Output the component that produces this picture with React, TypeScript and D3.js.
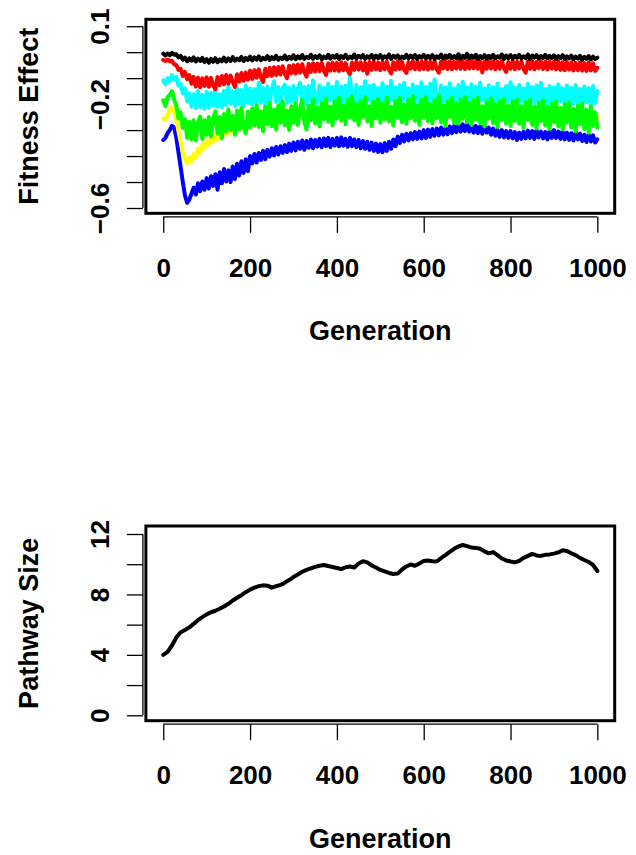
import React, { useEffect, useRef } from "react";
import * as d3 from "d3";

// fitness effect series, one value every 5 generations (0..1000)
const GEN_STEP = 5;

const blackSeries = [
  -0.006,-0.013,-0.005,-0.012,-0.003,-0.010,-0.008,-0.020,-0.014,-0.029,-0.021,-0.035,-0.024,-0.033,-0.020,-0.036,-0.025,-0.034,-0.022,-0.038,
  -0.027,-0.041,-0.026,-0.037,-0.023,-0.039,-0.028,-0.035,-0.021,-0.036,-0.024,-0.034,-0.019,-0.033,-0.025,-0.031,-0.018,-0.034,-0.022,-0.030,
  -0.017,-0.032,-0.020,-0.029,-0.016,-0.031,-0.022,-0.028,-0.015,-0.030,-0.019,-0.027,-0.014,-0.029,-0.021,-0.026,-0.013,-0.028,-0.018,-0.025,
  -0.012,-0.027,-0.016,-0.024,-0.011,-0.026,-0.018,-0.023,-0.010,-0.025,-0.015,-0.022,-0.012,-0.027,-0.017,-0.023,-0.010,-0.025,-0.014,-0.021,
  -0.011,-0.026,-0.015,-0.022,-0.010,-0.025,-0.017,-0.023,-0.009,-0.024,-0.014,-0.021,-0.011,-0.026,-0.016,-0.022,-0.010,-0.025,-0.013,-0.023,
  -0.011,-0.025,-0.016,-0.022,-0.009,-0.026,-0.014,-0.021,-0.012,-0.025,-0.017,-0.023,-0.010,-0.024,-0.013,-0.022,-0.011,-0.026,-0.015,-0.021,
  -0.010,-0.024,-0.014,-0.023,-0.011,-0.026,-0.016,-0.022,-0.009,-0.025,-0.013,-0.021,-0.010,-0.024,-0.015,-0.023,-0.008,-0.025,-0.014,-0.022,
  -0.006,-0.024,-0.013,-0.021,-0.010,-0.026,-0.015,-0.023,-0.011,-0.025,-0.014,-0.022,-0.010,-0.024,-0.016,-0.021,-0.009,-0.026,-0.013,-0.023,
  -0.011,-0.025,-0.014,-0.022,-0.010,-0.024,-0.016,-0.023,-0.009,-0.026,-0.013,-0.021,-0.011,-0.025,-0.015,-0.022,-0.010,-0.024,-0.014,-0.023,
  -0.012,-0.026,-0.015,-0.023,-0.011,-0.027,-0.016,-0.024,-0.013,-0.028,-0.017,-0.025,-0.014,-0.029,-0.018,-0.026,-0.015,-0.028,-0.017,-0.027,
  -0.021,
];

const redSeries = [
  -0.030,-0.034,-0.029,-0.035,-0.033,-0.046,-0.050,-0.068,-0.064,-0.092,-0.076,-0.104,-0.088,-0.121,-0.095,-0.132,-0.098,-0.135,-0.101,-0.130,
  -0.097,-0.133,-0.099,-0.128,-0.142,-0.096,-0.127,-0.092,-0.124,-0.088,-0.121,-0.090,-0.115,-0.134,-0.085,-0.113,-0.080,-0.110,-0.078,-0.106,
  -0.071,-0.103,-0.069,-0.098,-0.066,-0.097,-0.115,-0.064,-0.093,-0.060,-0.091,-0.058,-0.088,-0.057,-0.086,-0.054,-0.083,-0.100,-0.052,-0.081,
  -0.050,-0.082,-0.048,-0.079,-0.046,-0.077,-0.094,-0.045,-0.076,-0.043,-0.074,-0.044,-0.073,-0.041,-0.072,-0.088,-0.043,-0.071,-0.040,-0.070,
  -0.041,-0.072,-0.039,-0.069,-0.042,-0.071,-0.085,-0.040,-0.068,-0.037,-0.067,-0.039,-0.070,-0.041,-0.083,-0.038,-0.068,-0.036,-0.066,-0.040,
  -0.069,-0.038,-0.066,-0.036,-0.068,-0.082,-0.039,-0.067,-0.035,-0.065,-0.037,-0.068,-0.080,-0.038,-0.064,-0.034,-0.066,-0.037,-0.067,-0.036,
  -0.065,-0.035,-0.067,-0.037,-0.064,-0.034,-0.066,-0.079,-0.036,-0.063,-0.033,-0.065,-0.035,-0.066,-0.037,-0.063,-0.032,-0.064,-0.034,-0.065,
  -0.035,-0.063,-0.032,-0.062,-0.034,-0.064,-0.036,-0.078,-0.037,-0.064,-0.033,-0.063,-0.035,-0.066,-0.036,-0.064,-0.034,-0.062,-0.076,-0.038,
  -0.064,-0.034,-0.066,-0.037,-0.063,-0.035,-0.065,-0.079,-0.036,-0.064,-0.034,-0.066,-0.038,-0.062,-0.035,-0.065,-0.037,-0.067,-0.036,-0.064,
  -0.037,-0.066,-0.035,-0.068,-0.039,-0.069,-0.038,-0.067,-0.040,-0.070,-0.041,-0.069,-0.039,-0.071,-0.042,-0.072,-0.040,-0.070,-0.043,-0.072,
  -0.060,
];

const cyanSeries = [
  -0.108,-0.124,-0.100,-0.112,-0.088,-0.106,-0.095,-0.128,-0.122,-0.158,-0.140,-0.190,-0.158,-0.210,-0.162,-0.215,-0.150,-0.212,-0.165,-0.218,
  -0.152,-0.214,-0.158,-0.205,-0.140,-0.210,-0.162,-0.212,-0.148,-0.204,-0.130,-0.198,-0.150,-0.208,-0.138,-0.200,-0.146,-0.206,-0.128,-0.196,
  -0.140,-0.202,-0.142,-0.198,-0.118,-0.195,-0.138,-0.204,-0.132,-0.196,-0.145,-0.112,-0.192,-0.135,-0.198,-0.140,-0.125,-0.196,-0.137,-0.190,
  -0.130,-0.195,-0.140,-0.118,-0.192,-0.134,-0.200,-0.130,-0.188,-0.108,-0.186,-0.196,-0.128,-0.190,-0.138,-0.198,-0.122,-0.186,-0.134,-0.194,
  -0.115,-0.190,-0.132,-0.198,-0.128,-0.188,-0.098,-0.182,-0.194,-0.126,-0.190,-0.135,-0.198,-0.112,-0.186,-0.130,-0.196,-0.125,-0.190,-0.138,
  -0.198,-0.120,-0.188,-0.132,-0.194,-0.110,-0.184,-0.136,-0.200,-0.126,-0.192,-0.118,-0.186,-0.140,-0.196,-0.124,-0.190,-0.132,-0.196,-0.116,
  -0.188,-0.134,-0.198,-0.122,-0.186,-0.105,-0.182,-0.196,-0.128,-0.190,-0.136,-0.200,-0.120,-0.188,-0.140,-0.194,-0.126,-0.192,-0.114,-0.186,
  -0.136,-0.198,-0.124,-0.190,-0.132,-0.196,-0.118,-0.186,-0.140,-0.200,-0.127,-0.190,-0.135,-0.196,-0.121,-0.188,-0.142,-0.198,-0.130,-0.192,
  -0.116,-0.186,-0.136,-0.198,-0.126,-0.190,-0.140,-0.200,-0.122,-0.188,-0.134,-0.196,-0.128,-0.192,-0.118,-0.186,-0.142,-0.200,-0.130,-0.190,
  -0.135,-0.198,-0.124,-0.190,-0.140,-0.202,-0.128,-0.192,-0.138,-0.200,-0.126,-0.192,-0.142,-0.204,-0.132,-0.194,-0.138,-0.202,-0.130,-0.196,
  -0.150,
];

const yellowSeries = [
  -0.255,-0.262,-0.240,-0.222,-0.212,-0.228,-0.262,-0.305,-0.345,-0.385,-0.410,-0.428,-0.405,-0.420,-0.392,-0.405,-0.372,-0.388,-0.356,-0.370,
  -0.340,-0.356,-0.325,-0.345,-0.318,-0.336,-0.305,-0.325,-0.298,-0.318,-0.290,-0.310,-0.285,-0.305,-0.278,-0.298,-0.272,-0.292,-0.268,-0.288,
  -0.262,-0.250,-0.268,-0.245,-0.258,-0.240,-0.262,-0.248,-0.255,-0.238,-0.260,-0.246,-0.252,-0.236,-0.258,-0.244,-0.250,-0.234,-0.255,-0.242,
  -0.248,-0.232,-0.252,-0.238,-0.245,-0.228,-0.250,-0.236,-0.242,-0.226,-0.248,-0.234,-0.240,-0.224,-0.246,-0.232,-0.238,-0.222,-0.244,-0.230,
  -0.236,-0.220,-0.240,-0.225,-0.232,-0.216,-0.238,-0.224,-0.230,-0.214,-0.236,-0.222,-0.228,-0.212,-0.234,-0.220,-0.240,-0.225,-0.232,-0.218,
  -0.238,-0.222,-0.234,-0.218,-0.240,-0.226,-0.232,-0.216,-0.236,-0.222,-0.230,-0.214,-0.236,-0.220,-0.228,-0.212,-0.234,-0.218,-0.230,-0.216,
  -0.232,-0.216,-0.236,-0.222,-0.228,-0.212,-0.234,-0.220,-0.230,-0.214,-0.238,-0.224,-0.232,-0.218,-0.236,-0.222,-0.230,-0.216,-0.238,-0.224,
  -0.236,-0.220,-0.240,-0.226,-0.232,-0.216,-0.238,-0.224,-0.234,-0.218,-0.240,-0.226,-0.236,-0.220,-0.242,-0.228,-0.234,-0.218,-0.240,-0.226,
  -0.238,-0.222,-0.244,-0.230,-0.236,-0.220,-0.242,-0.228,-0.238,-0.222,-0.246,-0.232,-0.240,-0.224,-0.244,-0.230,-0.238,-0.222,-0.246,-0.232,
  -0.242,-0.226,-0.248,-0.234,-0.240,-0.224,-0.250,-0.236,-0.244,-0.228,-0.252,-0.238,-0.246,-0.230,-0.254,-0.240,-0.248,-0.232,-0.256,-0.242,
  -0.250,
];

const greenSeries = [
  -0.185,-0.208,-0.172,-0.165,-0.150,-0.182,-0.205,-0.255,-0.232,-0.292,-0.258,-0.330,-0.268,-0.335,-0.262,-0.340,-0.270,-0.248,-0.335,-0.262,
  -0.318,-0.250,-0.325,-0.258,-0.228,-0.312,-0.250,-0.332,-0.238,-0.305,-0.220,-0.300,-0.245,-0.318,-0.225,-0.298,-0.215,-0.290,-0.312,-0.228,
  -0.290,-0.218,-0.282,-0.205,-0.288,-0.228,-0.305,-0.210,-0.278,-0.195,-0.285,-0.222,-0.298,-0.205,-0.272,-0.190,-0.282,-0.225,-0.300,-0.208,
  -0.272,-0.196,-0.280,-0.220,-0.185,-0.270,-0.298,-0.205,-0.262,-0.182,-0.275,-0.212,-0.286,-0.196,-0.258,-0.178,-0.268,-0.210,-0.282,-0.188,
  -0.256,-0.176,-0.264,-0.206,-0.278,-0.184,-0.252,-0.170,-0.262,-0.200,-0.280,-0.188,-0.250,-0.174,-0.266,-0.208,-0.284,-0.190,-0.255,-0.180,
  -0.272,-0.198,-0.260,-0.175,-0.266,-0.210,-0.282,-0.188,-0.252,-0.176,-0.270,-0.202,-0.276,-0.182,-0.255,-0.170,-0.264,-0.206,-0.280,-0.184,
  -0.252,-0.174,-0.266,-0.200,-0.274,-0.186,-0.255,-0.168,-0.270,-0.204,-0.284,-0.190,-0.250,-0.176,-0.272,-0.198,-0.276,-0.182,-0.256,-0.174,
  -0.270,-0.195,-0.280,-0.184,-0.260,-0.176,-0.272,-0.208,-0.286,-0.190,-0.256,-0.178,-0.274,-0.200,-0.288,-0.188,-0.262,-0.180,-0.276,-0.205,
  -0.284,-0.188,-0.265,-0.182,-0.276,-0.208,-0.290,-0.192,-0.260,-0.184,-0.280,-0.210,-0.294,-0.195,-0.266,-0.186,-0.282,-0.212,-0.296,-0.198,
  -0.270,-0.190,-0.286,-0.215,-0.298,-0.200,-0.272,-0.194,-0.290,-0.218,-0.305,-0.204,-0.278,-0.198,-0.296,-0.222,-0.310,-0.208,-0.284,-0.232,
  -0.290,
];

const blueSeries = [
  -0.338,-0.330,-0.312,-0.300,-0.284,-0.290,-0.328,-0.385,-0.442,-0.500,-0.552,-0.580,-0.568,-0.545,-0.522,-0.548,-0.505,-0.535,-0.498,-0.530,
  -0.485,-0.525,-0.478,-0.515,-0.470,-0.530,-0.462,-0.505,-0.450,-0.498,-0.455,-0.500,-0.440,-0.488,-0.430,-0.475,-0.420,-0.465,-0.412,-0.458,
  -0.400,-0.428,-0.392,-0.425,-0.388,-0.415,-0.380,-0.412,-0.376,-0.402,-0.370,-0.398,-0.365,-0.394,-0.362,-0.388,-0.358,-0.385,-0.352,-0.380,
  -0.348,-0.378,-0.345,-0.372,-0.340,-0.376,-0.342,-0.368,-0.336,-0.370,-0.338,-0.364,-0.334,-0.366,-0.332,-0.362,-0.330,-0.365,-0.334,-0.360,
  -0.330,-0.362,-0.328,-0.360,-0.334,-0.364,-0.330,-0.362,-0.336,-0.366,-0.338,-0.370,-0.342,-0.372,-0.345,-0.376,-0.348,-0.380,-0.352,-0.384,
  -0.354,-0.385,-0.350,-0.380,-0.345,-0.372,-0.336,-0.362,-0.325,-0.350,-0.318,-0.344,-0.314,-0.340,-0.312,-0.336,-0.308,-0.334,-0.306,-0.332,
  -0.300,-0.330,-0.298,-0.326,-0.296,-0.322,-0.294,-0.320,-0.290,-0.318,-0.292,-0.316,-0.286,-0.312,-0.284,-0.308,-0.280,-0.306,-0.278,-0.304,
  -0.278,-0.306,-0.282,-0.310,-0.284,-0.312,-0.286,-0.314,-0.282,-0.310,-0.290,-0.318,-0.294,-0.322,-0.298,-0.326,-0.300,-0.328,-0.304,-0.330,
  -0.304,-0.332,-0.308,-0.338,-0.310,-0.334,-0.306,-0.332,-0.302,-0.330,-0.304,-0.334,-0.300,-0.328,-0.306,-0.332,-0.308,-0.336,-0.302,-0.330,
  -0.300,-0.330,-0.306,-0.334,-0.304,-0.336,-0.310,-0.338,-0.312,-0.340,-0.308,-0.336,-0.314,-0.342,-0.318,-0.346,-0.316,-0.344,-0.320,-0.348,
  -0.336,
];

// pathway size, one value every 10 generations
const PATH_STEP = 10;
const pathwaySize = [
  4.00, 4.20, 4.62, 5.15, 5.50, 5.65, 5.82, 6.05, 6.30, 6.50,
  6.68, 6.82, 6.92, 7.05, 7.20, 7.38, 7.60, 7.78, 7.95, 8.15,
  8.32, 8.45, 8.55, 8.60, 8.58, 8.45, 8.55, 8.62, 8.78, 8.95,
  9.15, 9.32, 9.50, 9.62, 9.72, 9.82, 9.90, 9.95, 9.88, 9.82,
  9.75, 9.68, 9.80, 9.85, 9.78, 10.05, 10.20, 10.12, 9.92, 9.78,
  9.62, 9.52, 9.42, 9.35, 9.38, 9.65, 9.85, 9.98, 9.90, 10.05,
  10.22, 10.25, 10.20, 10.18, 10.40, 10.60, 10.82, 11.02, 11.18, 11.27,
  11.20, 11.10, 11.08, 11.02, 10.85, 10.72, 10.80, 10.60, 10.38, 10.25,
  10.18, 10.12, 10.22, 10.42, 10.55, 10.68, 10.58, 10.55, 10.62, 10.65,
  10.70, 10.78, 10.92, 10.88, 10.72, 10.60, 10.42, 10.28, 10.15, 9.95,
  9.55,
];

const genTicks = [0, 200, 400, 600, 800, 1000];
const fitnessTicks = [0.1, 0, -0.1, -0.2, -0.3, -0.4, -0.5, -0.6];
const fitnessLabels = [0.1, -0.2, -0.6];
const pathwayTicks = [0, 2, 4, 6, 8, 10, 12];
const pathwayLabels = [0, 4, 8, 12];

// draw order matters: green sits on top of yellow and cyan, black on top of red
const fitnessSeries = [
  { name: "blue", color: "#0000ff", values: blueSeries },
  { name: "yellow", color: "#ffff00", values: yellowSeries },
  { name: "cyan", color: "#00ffff", values: cyanSeries },
  { name: "green", color: "#00ff00", values: greenSeries },
  { name: "red", color: "#ff0000", values: redSeries },
  { name: "black", color: "#000000", values: blackSeries },
];

const FONT = "'Liberation Sans', Arial, Helvetica, sans-serif";

function fmt(v: number) {
  if (v === 0) return "0";
  return v < 0 ? "\u2212" + String(Math.abs(v)) : String(v);
}

function drawPanel(svg: any, p: any) {
  const x = d3.scaleLinear().domain([-40, 1040]).range([145.9, 614.7]);
  const y = d3.scaleLinear().domain(p.domain).range(p.range);
  const g = svg.append("g");

  // series
  const line = d3
    .line<number[]>()
    .x((d) => x(d[0]))
    .y((d) => y(d[1]));
  p.series.forEach((s: any) => {
    const pts = s.values.map((v: number, i: number) => [i * s.step, v]);
    g.append("path")
      .attr("d", line(pts))
      .attr("fill", "none")
      .attr("stroke", s.color)
      .attr("stroke-width", s.width)
      .attr("stroke-linejoin", "round")
      .attr("stroke-linecap", "round");
  });

  // frame
  g.append("rect")
    .attr("x", x(-40))
    .attr("y", p.boxTop)
    .attr("width", x(1040) - x(-40))
    .attr("height", p.boxBottom - p.boxTop)
    .attr("fill", "none")
    .attr("stroke", "#000")
    .attr("stroke-width", 3);

  // x axis, sits a little below the frame like R's axis()
  const xAxisY = p.boxBottom + 3.5;
  const xa = g
    .append("g")
    .attr("transform", `translate(0,${xAxisY})`)
    .call(d3.axisBottom(x).tickValues(genTicks).tickSize(16).tickSizeOuter(0).tickFormat((d: any) => String(d)));
  xa.select(".domain").remove();
  xa.append("line")
    .attr("x1", x(genTicks[0]))
    .attr("x2", x(genTicks[genTicks.length - 1]))
    .attr("stroke", "#000")
    .attr("stroke-width", 1.3);
  xa.selectAll(".tick line").attr("stroke", "#000").attr("stroke-width", 1.3);
  xa.selectAll(".tick text")
    .attr("y", 60)
    .attr("dy", null)
    .attr("fill", "#000")
    .style("font-family", FONT)
    .style("font-weight", "bold")
    .style("font-size", "26px");

  // y axis
  const yAxisX = x(-40) - 3;
  const ya = g
    .append("g")
    .attr("transform", `translate(${yAxisX},0)`)
    .call(
      d3
        .axisLeft(y)
        .tickValues(p.ticks)
        .tickSize(16)
        .tickSizeOuter(0)
        .tickFormat((d: any) => (p.labels.indexOf(d) >= 0 ? fmt(d) : ""))
    );
  ya.select(".domain").remove();
  ya.append("line")
    .attr("y1", y(d3.min(p.ticks) as number))
    .attr("y2", y(d3.max(p.ticks) as number))
    .attr("stroke", "#000")
    .attr("stroke-width", 1.3);
  ya.selectAll(".tick line").attr("stroke", "#000").attr("stroke-width", 1.3);
  ya.selectAll(".tick text")
    .attr("x", null)
    .attr("dy", null)
    .attr("transform", "translate(-34,0) rotate(-90)")
    .attr("text-anchor", "middle")
    .attr("fill", "#000")
    .style("font-family", FONT)
    .style("font-weight", "bold")
    .style("font-size", "26px");

  // axis titles
  g.append("text")
    .attr("x", (x(-40) + x(1040)) / 2)
    .attr("y", p.boxBottom + 127)
    .attr("text-anchor", "middle")
    .style("font-family", FONT)
    .style("font-weight", "bold")
    .style("font-size", "27px")
    .text("Generation");

  g.append("text")
    .attr("transform", `translate(38,${(p.boxTop + p.boxBottom) / 2}) rotate(-90)`)
    .attr("text-anchor", "middle")
    .style("font-family", FONT)
    .style("font-weight", "bold")
    .style("font-size", "27px")
    .text(p.ylab);
}

export default function App() {
  const ref = useRef<SVGSVGElement>(null);

  useEffect(() => {
    const svg = d3.select(ref.current);
    svg.selectAll("*").remove();
    svg.append("rect").attr("width", 636).attr("height", 855).attr("fill", "#fff");

    drawPanel(svg, {
      domain: [-0.6, 0.1],
      range: [208, 26.2],
      boxTop: 19.3,
      boxBottom: 213.3,
      ticks: fitnessTicks,
      labels: fitnessLabels,
      ylab: "Fitness Effect",
      series: fitnessSeries.map((s) => ({ ...s, step: GEN_STEP, width: 4 })),
    });

    drawPanel(svg, {
      domain: [0, 12],
      range: [715.3, 534],
      boxTop: 526,
      boxBottom: 720.7,
      ticks: pathwayTicks,
      labels: pathwayLabels,
      ylab: "Pathway Size",
      series: [{ name: "size", color: "#000", values: pathwaySize, step: PATH_STEP, width: 4 }],
    });
  }, []);

  return (
    <svg
      ref={ref}
      width={636}
      height={855}
      style={{ position: "absolute", left: 0, top: 0, display: "block" }}
    />
  );
}
